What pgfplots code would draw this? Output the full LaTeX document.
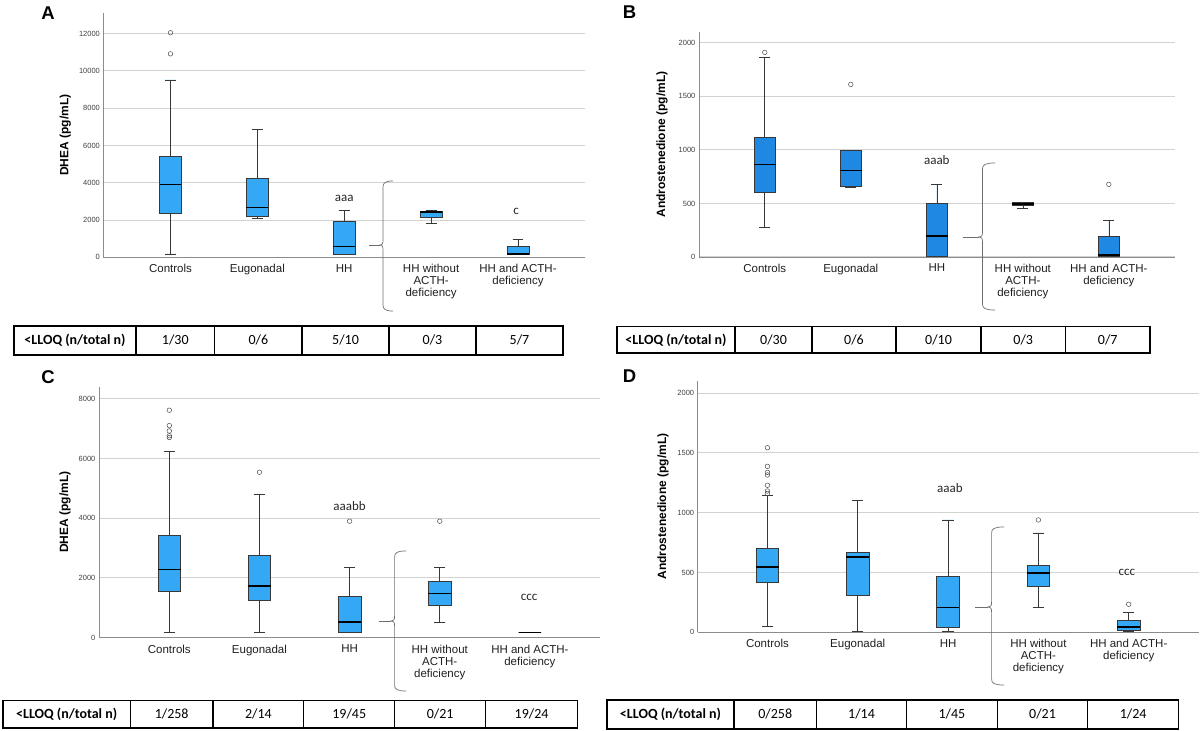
\documentclass[border=0pt]{standalone}
\usepackage{fontspec}
\setmainfont{Liberation Sans}
\newfontfamily\calfont{Carlito}
\usepackage{pgfplots}
\pgfplotsset{compat=1.18}
\usepgfplotslibrary{statistics}
\definecolor{boxA}{RGB}{52,168,245}
\definecolor{boxB}{RGB}{30,136,226}
\definecolor{gridc}{RGB}{210,210,210}
\definecolor{axc}{RGB}{140,140,140}
\definecolor{bracec}{RGB}{110,110,110}
\tikzset{ann/.style={font=\calfont\fontsize{13}{13}\selectfont, text=black!85}}
\pgfplotsset{
  panel/.style={
    scale only axis,
    axis x line*=bottom, axis y line*=left,
    axis line style={draw=axc, line width=0.8pt},
    major tick length=0pt,
    ymajorgrids, grid style={draw=gridc, line width=1pt},
    ymin=0, scaled y ticks=false,
    xtick={0,1,2,3,4},
    xticklabels={Controls,Eugonadal,HH,{HH without\\ACTH-\\deficiency},{HH and ACTH-\\deficiency}},
    xticklabel style={align=center, font=\fontsize{11.5}{12}\selectfont, text=black!88, yshift=-3.5pt},
    yticklabel style={font=\fontsize{7.5}{8}\selectfont, text=black!75},
    /pgf/number format/assume math mode=true,
    /pgf/number format/1000 sep={},
    ylabel style={font=\bfseries\fontsize{12}{12}\selectfont, anchor=center},
    clip=false,
  },
  bx/.style={boxplot/draw direction=y, boxplot/box extend=0.25, boxplot/whisker extend=0.125,
    draw=black!78, line width=0.6pt, mark=o, mark size=2.3pt,
    mark options={draw=black!70, line width=0.5pt},
    boxplot/every median/.style={draw=black, line width=1.5pt}},
}
\newcommand\brc[7]{%
 \draw[bracec, line width=0.7pt] (#1,{731-#7}) -- (#2,{731-#7});
 \draw[bracec, line width=0.7pt] (#4,{731-#5}) .. controls ({#3+2},{731-#5}) and (#3,{731-#5-2}) .. (#3,{731-#5-6}) -- (#3,{731-#7+5}) .. controls (#3,{731-#7+1}) and ({#3-1},{731-#7}) .. (#2,{731-#7}) .. controls ({#3-1},{731-#7}) and (#3,{731-#7-1}) .. (#3,{731-#7-5}) -- (#3,{731-#6+6}) .. controls (#3,{731-#6+2}) and ({#3+2},{731-#6}) .. (#4,{731-#6});
}
\newcommand\tframe[8]{%
 \draw[black, line width=1.3pt] (#1,#7) rectangle (#6,#8);
 \foreach \xx in {#2,#3,#4,#5} {\draw[black, line width=1.3pt] (\xx,#7) -- (\xx,#8);}
}
\begin{document}
\begin{tikzpicture}
\useasboundingbox (0pt,0pt) rectangle (1200pt,731pt);

% ---------------- Panel A ----------------
\begin{axis}[panel, anchor=south west, at={(103.4pt,473.7pt)}, width=482pt, height=244pt,
  xmin=-0.772, xmax=4.776, ymax=13095, ytick={0,2000,...,12000},
  ylabel={DHEA (pg/mL)}, ylabel style={at={(axis description cs:-0.079,0.5)}}]
\addplot[bx, fill=boxA, boxplot prepared={draw position=0, lower whisker=180, lower quartile=2360, median=3900, upper quartile=5440, upper whisker=9520}]
  table[row sep=\\, y index=0] {v\\ 10920\\ 12050\\};
\addplot[bx, fill=boxA, boxplot prepared={draw position=1, lower whisker=2090, lower quartile=2200, median=2670, upper quartile=4240, upper whisker=6860}] coordinates {};
\addplot[bx, fill=boxA, boxplot prepared={draw position=2, lower whisker=180, lower quartile=180, median=570, upper quartile=1930, upper whisker=2520}] coordinates {};
\addplot[bx, fill=boxA, boxplot prepared={draw position=3, lower whisker=1840, lower quartile=2150, median=2420, upper quartile=2490, upper whisker=2520}] coordinates {};
\addplot[bx, fill=boxA, boxplot prepared={draw position=4, lower whisker=180, lower quartile=180, median=180, upper quartile=570, upper whisker=980}] coordinates {};
\node[ann] at (axis cs:2,3182) {aaa};
\node[ann] at (axis cs:3.98,2485) {c};
\end{axis}

% ---------------- Panel B ----------------
\begin{axis}[panel, anchor=south west, at={(698.9pt,474pt)}, width=475.8pt, height=225.3pt,
  xmin=-0.766, xmax=4.766, ymax=2103, ytick={0,500,...,2000},
  ylabel={Androstenedione (pg/mL)}, ylabel style={at={(axis description cs:-0.0776,0.5)}}]
\addplot[bx, fill=boxB, boxplot prepared={draw position=0, lower whisker=274, lower quartile=603, median=865, upper quartile=1120, upper whisker=1866}]
  table[row sep=\\, y index=0] {v\\ 1910\\};
\addplot[bx, fill=boxB, boxplot prepared={draw position=1, lower whisker=650, lower quartile=656, median=809, upper quartile=995, upper whisker=995}]
  table[row sep=\\, y index=0] {v\\ 1611\\};
\addplot[bx, fill=boxB, boxplot prepared={draw position=2, lower whisker=9, lower quartile=9, median=196, upper quartile=500, upper whisker=681}] coordinates {};
\addplot[bx, fill=boxB, boxplot prepared={draw position=3, lower whisker=457, lower quartile=479, median=494, upper quartile=507, upper whisker=510}] coordinates {};
\addplot[bx, fill=boxB, boxplot prepared={draw position=4, lower whisker=9, lower quartile=9, median=19, upper quartile=193, upper whisker=342}]
  table[row sep=\\, y index=0] {v\\ 678\\};
\node[ann] at (axis cs:2,905) {aaab};
\end{axis}

% ---------------- Panel C ----------------
\begin{axis}[panel, anchor=south west, at={(98.9pt,93.3pt)}, width=500.7pt, height=251pt,
  xmin=-0.781, xmax=4.773, ymax=8402, ytick={0,2000,...,8000},
  ylabel={DHEA (pg/mL)}, ylabel style={at={(axis description cs:-0.0677,0.5)}}]
\addplot[bx, fill=boxA, boxplot prepared={draw position=0, lower whisker=178, lower quartile=1550, median=2290, upper quartile=3435, upper whisker=6245}]
  table[row sep=\\, y index=0] {v\\ 6700\\ 6760\\ 6920\\ 7100\\ 7615\\};
\addplot[bx, fill=boxA, boxplot prepared={draw position=1, lower whisker=178, lower quartile=1250, median=1728, upper quartile=2743, upper whisker=4785}]
  table[row sep=\\, y index=0] {v\\ 5540\\};
\addplot[bx, fill=boxA, boxplot prepared={draw position=2, lower whisker=178, lower quartile=178, median=524, upper quartile=1383, upper whisker=2353}]
  table[row sep=\\, y index=0] {v\\ 3900\\};
\addplot[bx, fill=boxA, boxplot prepared={draw position=3, lower whisker=524, lower quartile=1070, median=1483, upper quartile=1896, upper whisker=2353}]
  table[row sep=\\, y index=0] {v\\ 3900\\};
\addplot[bx, fill=boxA, draw=black, boxplot/every whisker/.style={draw=black, line width=1.5pt}, boxplot/every box/.style={draw=black, line width=1.5pt}, boxplot prepared={draw position=4, lower whisker=178, lower quartile=178, median=178, upper quartile=178, upper whisker=178}] coordinates {};
\node[ann] at (axis cs:2,4408) {aaabb};
\node[ann] at (axis cs:3.99,1362) {ccc};
\end{axis}

% ---------------- Panel D ----------------
\begin{axis}[panel, anchor=south west, at={(697.7pt,98.7pt)}, width=500.8pt, height=251.6pt,
  xmin=-0.772, xmax=4.773, ymax=2103, ytick={0,500,...,2000},
  ylabel={Androstenedione (pg/mL)}, ylabel style={at={(axis description cs:-0.0693,0.5)}}]
\addplot[bx, fill=boxA, boxplot prepared={draw position=0, lower whisker=47, lower quartile=418, median=546, upper quartile=705, upper whisker=1142}]
  table[row sep=\\, y index=0] {v\\ 1160\\ 1181\\ 1229\\ 1315\\ 1337\\ 1387\\ 1543\\};
\addplot[bx, fill=boxA, boxplot prepared={draw position=1, lower whisker=5, lower quartile=312, median=630, upper quartile=671, upper whisker=1103}] coordinates {};
\addplot[bx, fill=boxA, boxplot prepared={draw position=2, lower whisker=5, lower quartile=39, median=209, upper quartile=465, upper whisker=939}] coordinates {};
\addplot[bx, fill=boxA, boxplot prepared={draw position=3, lower whisker=209, lower quartile=382, median=496, upper quartile=563, upper whisker=830}]
  table[row sep=\\, y index=0] {v\\ 939\\};
\addplot[bx, fill=boxA, boxplot prepared={draw position=4, lower whisker=5, lower quartile=14, median=45, upper quartile=100, upper whisker=164}]
  table[row sep=\\, y index=0] {v\\ 234\\};
\node[ann] at (axis cs:2.02,1206) {aaab};
\node[ann] at (axis cs:3.98,504) {ccc};
\end{axis}

\begin{scope}[x=1pt,y=1pt]
% ---------------- Panel letters ----------------
\begin{scope}[every node/.style={font=\bfseries\fontsize{18.5}{18.5}\selectfont, anchor=center, inner sep=0pt}]
\node at (48,717.7) {A};
\node at (629.5,719) {B};
\node at (48,354.3) {C};
\node at (629.5,355.3) {D};
\end{scope}

% ---------------- Braces ----------------
\brc{369}{380}{383}{393}{181}{311}{245}
\brc{963}{979}{982.5}{995}{163}{310}{237}
\brc{379}{391}{394.6}{406}{551}{691}{621}
\brc{975}{988}{991.6}{1004}{527}{685}{607}

% ---------------- Tables ----------------
\begin{scope}[every node/.style={font=\calfont\fontsize{14}{14}\selectfont, anchor=base, inner sep=0pt}]
\tframe{14}{136}{214.6}{302}{389}{563}{376}{405}
\draw[black, line width=1.3pt] (476,376) -- (476,405);
\node[font=\calfont\bfseries\fontsize{14}{14}\selectfont] at (75,386) {<LLOQ (n/total n)};
\node at (175.3,386) {1/30}; \node at (258.3,386) {0/6}; \node at (345.5,386) {5/10};
\node at (432.5,386) {0/3}; \node at (519.5,386) {5/7};

\tframe{617}{735}{812}{896}{981}{1150}{378}{404.3}
\draw[black, line width=1.3pt] (1065.5,378) -- (1065.5,404.3);
\node[font=\calfont\bfseries\fontsize{14}{14}\selectfont] at (676,386.6) {<LLOQ (n/total n)};
\node at (773.5,386.6) {0/30}; \node at (854,386.6) {0/6}; \node at (938.5,386.6) {0/10};
\node at (1023.25,386.6) {0/3}; \node at (1107.75,386.6) {0/7};

\tframe{3}{130.3}{213}{303.8}{394.6}{577.4}{3}{30.3}
\draw[black, line width=1.3pt] (485.8,3) -- (485.8,30.3);
\node[font=\calfont\bfseries\fontsize{14}{14}\selectfont] at (66.65,12.2) {<LLOQ (n/total n)};
\node at (171.65,12.2) {1/258}; \node at (258.4,12.2) {2/14}; \node at (349.2,12.2) {19/45};
\node at (440.2,12.2) {0/21}; \node at (531.6,12.2) {19/24};

\tframe{607}{734}{816.5}{906.5}{997.3}{1178.5}{2}{31}
\draw[black, line width=1.3pt] (1087.7,2) -- (1087.7,31);
\node[font=\calfont\bfseries\fontsize{14}{14}\selectfont] at (670.5,12) {<LLOQ (n/total n)};
\node at (775.25,12) {0/258}; \node at (861.5,12) {1/14}; \node at (951.9,12) {1/45};
\node at (1042.5,12) {0/21}; \node at (1133.1,12) {1/24};
\end{scope}
\end{scope}
\end{tikzpicture}
\end{document}
